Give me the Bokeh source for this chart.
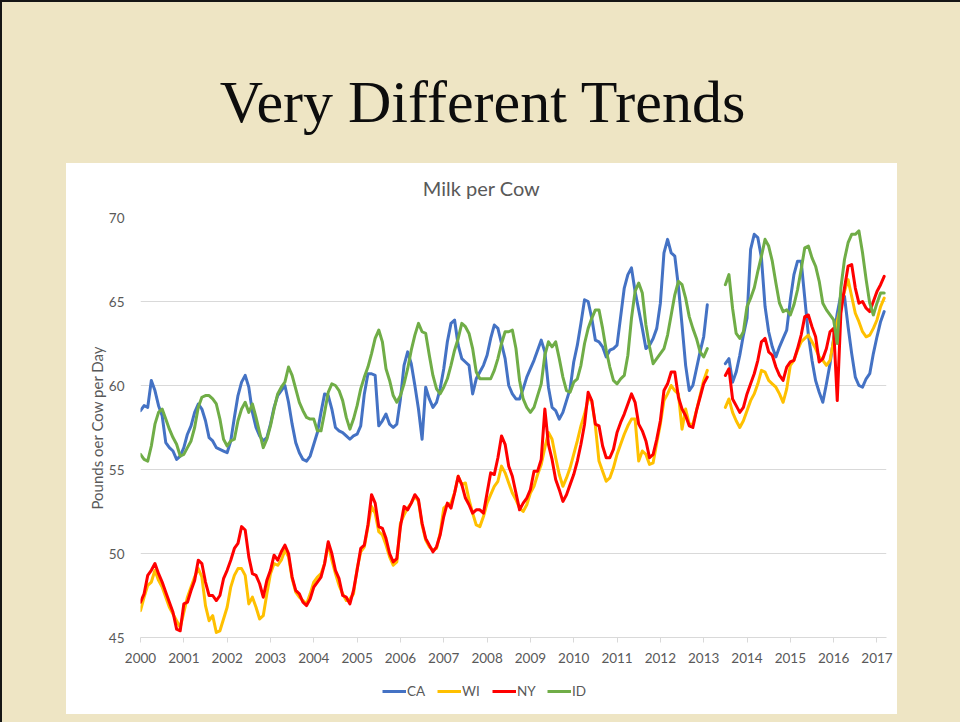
from bokeh.plotting import figure
from bokeh.models import (Div, Spacer, Legend, LegendItem, FixedTicker, Range1d,
                          ColumnDataSource, Label)
from bokeh.layouts import column, row
from bokeh.embed import file_html
from bokeh.resources import INLINE

nan = float("nan")

SLIDE_TITLE = "Very Different Trends"
CHART_TITLE = "Milk per Cow"
Y_LABEL = "Pounds oer Cow per Day"
START_YEAR = 2000
X_TICKS = list(range(2000, 2018))
Y_TICKS = [45, 50, 55, 60, 65, 70]
SERIES = ["CA", "WI", "NY", "ID"]
COLORS = ["#4472C4", "#FFC000", "#FF0000", "#70AD47"]

# monthly values, Jan 2000 .. Mar 2017 (nan = missing months)
CA = [
    58.5, 58.8, 58.7, 60.3, 59.7, 58.8, 58.2, 56.6, 56.3, 56.1, 55.6, 55.8,
    56.3, 57.1, 57.6, 58.4, 58.9, 58.6, 57.9, 56.9, 56.7, 56.3, 56.2, 56.1,
    56.0, 56.7, 58.1, 59.4, 60.2, 60.6, 59.9, 58.4, 57.5, 57.0, 56.7, 56.9,
    57.7, 58.7, 59.4, 59.7, 60.0, 59.0, 57.7, 56.6, 56.0, 55.6, 55.5, 55.8,
    56.5, 57.2, 58.4, 59.5, 59.4, 58.6, 57.5, 57.3, 57.2, 57.0, 56.8, 57.0,
    57.1, 57.6, 59.5, 60.7, 60.7, 60.6, 57.6, 57.9, 58.3, 57.7, 57.5, 57.7,
    59.2, 61.2, 62.0, 61.3, 60.0, 58.6, 56.8, 59.9, 59.2, 58.7, 59.0, 59.8,
    61.0, 62.6, 63.7, 63.9, 62.4, 61.6, 61.4, 61.2, 59.5, 60.4, 60.8, 61.2,
    61.8, 62.8, 63.6, 63.4, 62.5, 61.6, 60.0, 59.5, 59.2, 59.2, 59.8, 60.5,
    61.0, 61.5, 62.1, 62.7, 62.0, 59.9, 58.7, 58.5, 58.0, 58.4, 59.1, 59.8,
    61.4, 62.4, 63.7, 65.1, 65.0, 64.0, 62.7, 62.6, 62.3, 61.7, 62.1, 62.2,
    62.4, 64.1, 65.8, 66.6, 67.0, 65.6, 64.5, 63.4, 62.2, 62.4, 62.8, 63.4,
    64.9, 67.9, 68.7, 67.9, 67.7, 65.9, 63.6, 61.2, 59.7, 60.0, 61.0, 62.0,
    62.9, 64.8, nan, nan, nan, nan, 61.3, 61.6, 60.2, 60.8, 61.8, 63.0,
    64.0, 68.1, 69.0, 68.8, 67.6, 64.7, 63.2, 62.3, 61.7, 62.3, 62.8, 63.3,
    65.1, 66.6, 67.4, 67.4, 65.2, 63.0, 61.5, 60.3, 59.6, 59.0, 60.1, 61.3,
    62.8, 64.3, 65.4, 65.3, 63.5, 61.9, 60.5, 60.0, 59.9, 60.4, 60.7, 61.9,
    62.9, 63.8, 64.4,
]
WI = [
    46.6, 47.4, 48.1, 48.3, 49.0, 48.4, 48.0, 47.4, 46.8, 46.4, 46.0, 45.6,
    46.5, 47.4, 48.0, 48.6, 49.1, 48.6, 46.9, 46.0, 46.3, 45.3, 45.4, 46.1,
    46.8, 48.0, 48.7, 49.1, 49.1, 48.7, 47.0, 47.4, 46.8, 46.1, 46.3, 47.6,
    48.8, 49.4, 49.3, 49.6, 50.2, 49.8, 48.5, 47.7, 47.4, 47.2, 47.0, 47.6,
    48.3, 48.6, 48.8, 49.4, 50.6, 49.6, 48.8, 48.1, 47.6, 47.2, 47.3, 47.6,
    49.1, 50.1, 50.4, 51.6, 52.8, 52.4, 51.3, 51.1, 50.5, 49.8, 49.3, 49.5,
    51.8, 52.3, 52.7, 53.0, 53.4, 53.1, 51.7, 50.8, 50.4, 50.2, 50.3, 51.2,
    52.7, 52.9, 53.0, 53.6, 54.6, 54.1, 54.2, 53.2, 52.4, 51.7, 51.6, 52.2,
    53.0, 53.5, 54.0, 54.3, 55.2, 54.8, 54.2, 53.6, 53.2, 52.7, 52.5, 52.9,
    53.6, 54.0, 54.7, 55.3, 56.3, 57.2, 56.8, 55.7, 54.7, 54.0, 54.5, 55.1,
    55.9, 56.7, 57.6, 58.3, 59.2, 59.1, 57.6, 55.5, 54.9, 54.3, 54.5, 55.1,
    55.9, 56.5, 57.1, 57.6, 58.0, 58.0, 55.5, 56.1, 55.9, 55.3, 55.4, 56.6,
    57.7, 59.1, 59.5, 60.0, 59.7, 59.5, 57.4, 58.6, 57.7, 57.7, 58.5, 59.4,
    60.3, 60.9, nan, nan, nan, nan, 58.7, 59.2, 58.4, 57.9, 57.5, 57.9,
    58.5, 59.1, 59.5, 60.1, 60.9, 60.8, 60.3, 60.1, 59.9, 59.5, 59.0, 59.8,
    61.2, 61.5, 62.1, 62.6, 62.8, 63.0, 62.6, 62.2, 61.7, 61.5, 61.2, 61.5,
    62.7, 63.8, 64.8, 65.6, 66.3, 65.3, 64.3, 63.8, 63.2, 62.9, 63.0, 63.4,
    63.9, 64.7, 65.2,
]
NY = [
    47.1, 47.6, 48.7, 49.0, 49.4, 48.8, 48.3, 47.7, 47.1, 46.5, 45.5, 45.4,
    47.0, 47.1, 47.8, 48.4, 49.6, 49.4, 48.3, 47.5, 47.5, 47.2, 47.5, 48.5,
    49.0, 49.6, 50.3, 50.6, 51.6, 51.4, 49.8, 48.8, 48.7, 48.2, 47.4, 48.4,
    49.0, 49.9, 49.6, 50.1, 50.5, 50.0, 48.6, 47.8, 47.6, 47.1, 46.9, 47.3,
    48.0, 48.3, 48.6, 49.4, 50.7, 50.0, 49.0, 48.5, 47.5, 47.4, 47.0, 47.8,
    49.0, 50.3, 50.5, 51.7, 53.5, 53.0, 51.6, 51.5, 50.9, 50.0, 49.5, 49.7,
    51.6, 52.8, 52.6, 53.0, 53.5, 53.2, 51.8, 50.9, 50.5, 50.1, 50.4, 51.1,
    52.2, 53.0, 52.7, 53.6, 54.6, 54.1, 53.3, 52.9, 52.4, 52.6, 52.6, 52.4,
    53.6, 54.8, 54.7, 55.7, 57.0, 56.5, 55.2, 54.6, 53.6, 52.6, 53.0, 53.3,
    53.8, 54.9, 54.9, 55.6, 58.6, 56.5, 55.6, 54.4, 53.8, 53.1, 53.5, 54.1,
    54.7, 55.5, 56.5, 57.7, 59.6, 59.1, 57.7, 57.6, 56.4, 55.7, 55.7, 56.2,
    57.2, 57.8, 58.3, 58.9, 59.5, 59.0, 57.7, 57.3, 56.7, 55.7, 55.9, 56.8,
    57.9, 59.7, 60.1, 60.8, 60.8, 59.3, 58.6, 58.2, 57.6, 57.5, 58.5, 59.3,
    60.1, 60.5, nan, nan, nan, nan, 60.6, 61.0, 59.2, 58.8, 58.4, 58.7,
    59.5, 60.1, 60.7, 61.5, 62.6, 62.8, 62.0, 61.8, 61.1, 60.6, 60.3, 61.1,
    61.4, 61.5, 62.2, 63.0, 64.1, 64.2, 63.5, 62.9, 61.4, 61.6, 62.2, 63.2,
    63.4, 59.1, 64.3, 65.8, 67.1, 67.2, 65.8, 64.9, 65.0, 64.6, 64.4, 65.0,
    65.6, 66.0, 66.5,
]
ID = [
    55.9, 55.6, 55.5, 56.4, 57.7, 58.4, 58.6, 58.0, 57.4, 56.9, 56.5, 55.8,
    55.9, 56.3, 56.7, 57.5, 58.7, 59.3, 59.4, 59.4, 59.2, 58.9, 58.0, 56.8,
    56.4, 56.7, 56.8, 57.9, 58.6, 59.0, 58.4, 58.9, 58.1, 57.2, 56.3, 56.8,
    57.6, 58.6, 59.5, 59.9, 60.2, 61.1, 60.6, 59.8, 59.0, 58.5, 58.1, 58.0,
    58.0, 57.3, 57.3, 58.4, 59.6, 60.1, 60.0, 59.7, 59.1, 58.1, 57.4, 58.0,
    58.8, 59.8, 60.5, 61.1, 61.9, 62.8, 63.3, 62.6, 61.0, 60.3, 59.4, 59.0,
    59.4, 60.1, 61.0, 62.1, 63.0, 63.7, 63.2, 63.1, 61.8, 60.6, 59.8, 59.5,
    59.9, 60.4, 61.2, 62.1, 62.8, 63.7, 63.5, 63.1, 62.2, 60.8, 60.4, 60.4,
    60.4, 60.4, 60.9, 61.6, 62.5, 63.2, 63.2, 63.3, 62.2, 60.3, 59.2, 58.7,
    58.4, 58.7, 59.4, 60.1, 61.8, 62.6, 62.3, 62.6, 61.6, 60.5, 59.7, 59.6,
    60.2, 60.4, 61.2, 62.5, 63.4, 64.0, 64.5, 64.5, 63.4, 62.1, 61.1, 60.3,
    60.1, 60.4, 60.6, 61.8, 64.0, 65.6, 66.1, 65.5, 63.6, 62.3, 61.3, 61.6,
    61.9, 62.2, 63.0, 64.2, 65.4, 66.2, 66.0, 65.2, 64.1, 63.4, 62.8, 62.0,
    61.7, 62.2, nan, nan, nan, nan, 66.0, 66.6, 64.6, 63.1, 62.8, 63.2,
    64.7, 65.2, 65.8, 66.8, 67.7, 68.7, 68.3, 67.4, 66.1, 64.9, 64.4, 64.5,
    64.2, 64.8, 65.7, 66.9, 68.2, 68.3, 67.6, 67.1, 66.2, 64.9, 64.5, 64.2,
    63.9, 62.5, 65.8, 67.5, 68.5, 69.0, 69.0, 69.2, 67.9, 66.3, 64.9, 64.2,
    64.9, 65.5, 65.5,
]

VALUES = {"CA": CA, "WI": WI, "NY": NY, "ID": ID}
MONTHS = [START_YEAR + i / 12 for i in range(len(CA))]

TXT = "#595959"
GRID = "#D9D9D9"
FONT = "Lato"
PARCHMENT = "#EEE5C4"


def strip(height):
    s = figure(width=831, height=height, output_backend="svg", toolbar_location=None,
               title=None, x_axis_type=None, y_axis_type=None,
               x_range=Range1d(0, 1), y_range=Range1d(0, 1),
               min_border_left=74, min_border_right=11, min_border_top=0,
               min_border_bottom=0, background_fill_alpha=0, border_fill_alpha=0,
               outline_line_color=None)
    return s


# ---- chart title strip ----
pt = strip(44)
pt.add_layout(Label(x=341, y=20, x_units="screen", y_units="screen",
                    text=CHART_TITLE, text_align="center", text_baseline="middle",
                    text_font=FONT, text_font_size="20px", text_color=TXT))

# ---- main chart ----
p = figure(width=831, height=462, output_backend="svg", toolbar_location=None,
           title=None, x_range=Range1d(2000, 2017.22), y_range=Range1d(45, 70),
           min_border_left=74, min_border_right=11, min_border_top=10,
           min_border_bottom=32, background_fill_alpha=0, border_fill_alpha=0,
           outline_line_color=None)

src = ColumnDataSource(dict(x=MONTHS, **VALUES))
for name, color in zip(SERIES, COLORS):
    p.line("x", name, source=src, line_color=color, line_width=3,
           line_join="round", line_cap="round")

p.xgrid.grid_line_color = None
p.ygrid.grid_line_color = GRID
p.ygrid.grid_line_width = 1

xa = p.xaxis[0]
xa.ticker = FixedTicker(ticks=X_TICKS)
xa.axis_line_color = GRID
xa.major_tick_line_color = GRID
xa.major_tick_out = 5
xa.major_tick_in = 0
xa.minor_tick_line_color = None
xa.major_label_standoff = 10
xa.major_label_text_font = FONT
xa.major_label_text_font_size = "13.5px"
xa.major_label_text_color = TXT

ya = p.yaxis[0]
ya.ticker = FixedTicker(ticks=Y_TICKS)
ya.axis_line_color = None
ya.major_tick_line_color = None
ya.minor_tick_line_color = None
ya.major_tick_out = 0
ya.major_tick_in = 0
ya.major_label_standoff = 16
ya.major_label_text_font = FONT
ya.major_label_text_font_size = "13.5px"
ya.major_label_text_color = TXT
ya.axis_label = Y_LABEL
ya.axis_label_text_font = FONT
ya.axis_label_text_font_size = "15px"
ya.axis_label_text_font_style = "normal"
ya.axis_label_text_color = TXT
ya.axis_label_standoff = 0

# ---- legend strip ----
pl = strip(45)
key_renderers = [pl.line(x=[nan], y=[nan], line_color=c, line_width=3, line_cap="butt")
                 for c in COLORS]
legend = Legend(items=[LegendItem(label=n, renderers=[r])
                       for n, r in zip(SERIES, key_renderers)],
                orientation="horizontal", location=(242, 15), padding=0, margin=0,
                spacing=10, glyph_width=24, glyph_height=14, label_standoff=1,
                label_text_font=FONT, label_text_font_size="13.5px",
                label_text_color=TXT, background_fill_alpha=0,
                border_line_color=None)
pl.add_layout(legend)

title_div = Div(
    text=('<div style="box-sizing:border-box;width:960px;padding-top:72px;padding-left:5px;'
          'font-family:\'Liberation Serif\',serif;font-size:60px;line-height:60px;'
          'text-align:center;color:#0d0d0d;white-space:nowrap;">'
          + SLIDE_TITLE + '</div>'),
    width=960, height=163, margin=0)

chart_box = column(pt, p, pl, styles={"background-color": "white"})

layout = column(
    title_div,
    row(Spacer(width=66, height=551), chart_box, Spacer(width=63, height=551)),
    Spacer(width=960, height=8),
    styles={"background-color": PARCHMENT,
            "box-shadow": "inset 2px 2px 0 0 #151515"},
)

open("out.html", "w").write(file_html(layout, INLINE))
